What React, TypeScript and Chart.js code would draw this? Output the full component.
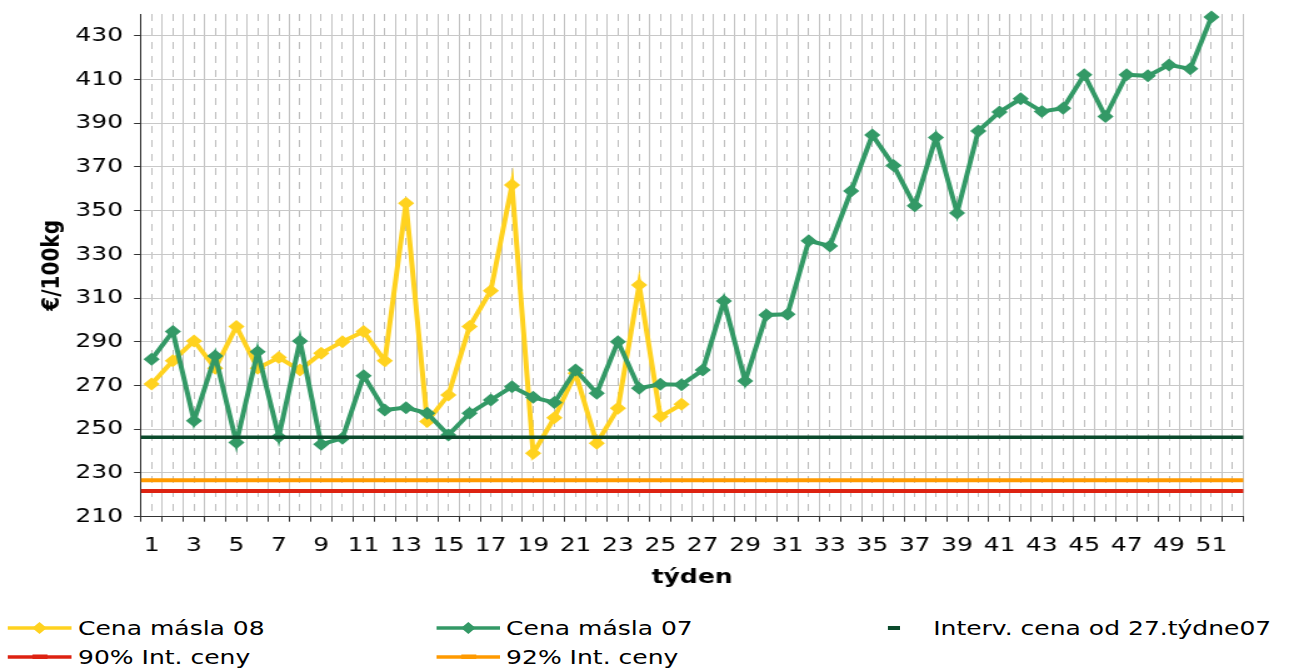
import React, { useEffect, useRef } from 'react';
import { Chart, registerables } from 'chart.js';

Chart.register(...registerables);

// ---------- data ----------
const weeks = [
  '1', '2', '3', '4', '5', '6', '7', '8', '9', '10', '11', '12', '13',
  '14', '15', '16', '17', '18', '19', '20', '21', '22', '23', '24', '25', '26',
  '27', '28', '29', '30', '31', '32', '33', '34', '35', '36', '37', '38', '39',
  '40', '41', '42', '43', '44', '45', '46', '47', '48', '49', '50', '51', '52',
];
const labeledWeeks = [
  '1', '3', '5', '7', '9', '11', '13', '15', '17', '19', '21', '23', '25',
  '27', '29', '31', '33', '35', '37', '39', '41', '43', '45', '47', '49', '51',
];
const butter08 = [
  270.7, 281.3, 290.4, 277.9, 297.0, 277.9, 282.8, 277.1, 284.8, 290.1, 294.7, 281.3, 353.4,
  253.5, 265.7, 297.0, 313.4, 361.8, 239.0, 255.3, 275.6, 243.6, 259.6, 316.0, 255.8, 261.4,
];
const butter07 = [
  282.0, 294.7, 253.9, 283.5, 243.9, 285.5, 246.6, 290.4, 243.1, 245.9, 274.5, 258.8, 259.9,
  257.3, 247.4, 257.3, 263.4, 269.5, 264.6, 262.2, 277.1, 266.5, 290.1, 268.8, 270.6, 270.4,
  277.1, 308.7, 272.1, 302.3, 302.6, 336.2, 333.9, 359.0, 384.6, 370.7, 352.3, 383.5, 349.0,
  386.5, 395.2, 401.2, 395.4, 396.9, 412.2, 393.1, 412.2, 411.7, 416.7, 414.9, 438.6, null,
];
const intervPrice = 246.39;
const int90 = 221.75;
const int92 = 226.68;
const weekSpan = [0, 52];
const yTicks = [210, 230, 250, 270, 290, 310, 330, 350, 370, 390, 410, 430];
const yMin = 210;
const yMax = 440;

const seriesNames = [
  'Cena másla 08',
  'Cena másla 07',
  'Interv. cena od 27.týdne07',
  '90% Int. ceny',
  '92% Int. ceny',
];

// ---------- style ----------
const W = 1035; // logical width, stretched horizontally to 1294
const SX = 1294 / W;
const FONT = "'DejaVu Sans', Verdana, sans-serif";
const YEL = '#FFD21F';
const GRN = '#339966';
const DGRN = '#0B4A2C';
const RED = '#DD2211';
const ORG = '#FF9A00';

function App() {
  const ref = useRef<HTMLCanvasElement | null>(null);

  useEffect(() => {
    const canvas = ref.current;
    if (!canvas) return;
    const flat = (v: number) => weekSpan.map((x) => ({ x, y: v }));
    const markerLine = {
      borderWidth: 4,
      pointStyle: 'rectRot' as const,
      pointRadius: 6.5,
      pointHoverRadius: 6.5,
      pointBorderWidth: 0,
      tension: 0,
      clip: false as const,
      xAxisID: 'x',
      yAxisID: 'y',
    };
    const flatLine = {
      borderWidth: 4,
      pointRadius: 0,
      xAxisID: 'xl',
      yAxisID: 'y',
      clip: false as const,
    };
    const chart = new Chart(canvas, {
      type: 'line',
      data: {
        labels: weeks,
        datasets: [
          { ...markerLine, label: seriesNames[0], data: butter08, borderColor: YEL, backgroundColor: YEL, pointBackgroundColor: YEL, order: 5 },
          { ...markerLine, label: seriesNames[1], data: butter07, borderColor: GRN, backgroundColor: GRN, pointBackgroundColor: GRN, order: 4 },
          { ...flatLine, label: seriesNames[2], data: flat(intervPrice), borderColor: DGRN, backgroundColor: DGRN, borderWidth: 3.5, order: 3 },
          { ...flatLine, label: seriesNames[3], data: flat(int90), borderColor: RED, backgroundColor: RED, order: 2 },
          { ...flatLine, label: seriesNames[4], data: flat(int92), borderColor: ORG, backgroundColor: ORG, order: 1 },
        ] as any,
      },
      options: {
        animation: false,
        responsive: false,
        devicePixelRatio: 1,
        layout: { padding: { top: 14, right: 40.6, left: 0, bottom: 0 } },
        plugins: { legend: { display: false }, tooltip: { enabled: false } },
        events: [],
        scales: {
          x: {
            type: 'category',
            position: 'bottom',
            offset: true,
            grid: { offset: true, color: '#c2c2c2', lineWidth: 1, tickLength: 5, tickColor: '#333', drawTicks: true },
            border: { display: true, color: '#333', width: 1 },
            ticks: {
              autoSkip: false,
              maxRotation: 0,
              minRotation: 0,
              padding: 12,
              color: '#000',
              font: { family: FONT, size: 20 },
              callback: (_v: any, i: number) => (labeledWeeks.includes(weeks[i]) ? weeks[i] : ''),
            },
            title: {
              display: true,
              text: 'týden',
              color: '#000',
              font: { family: FONT, size: 20, weight: 'bold' },
              padding: { top: 0, bottom: 10 },
            },
            afterFit: (s: any) => { s.height = 83.3; s.paddingLeft = 0; s.paddingRight = 0; },
          },
          xc: {
            type: 'category',
            position: 'bottom',
            offset: true,
            grid: { offset: false, color: '#bdbdbd', lineWidth: 1, drawTicks: false },
            border: { display: false, dash: [7, 7] },
            ticks: { display: false },
            afterFit: (s: any) => { s.height = 0; s.paddingLeft = 0; s.paddingRight = 0; },
          },
          xl: { type: 'linear', min: weekSpan[0], max: weekSpan[1], display: false },
          y: {
            type: 'linear',
            min: yMin,
            max: yMax,
            afterBuildTicks: (s: any) => { s.ticks = yTicks.map((v) => ({ value: v })); },
            grid: { color: '#c8c8c8', lineWidth: 1, tickLength: 5.6, tickColor: '#333' },
            border: { display: true, color: '#333', width: 1 },
            ticks: { padding: 8.8, color: '#000', font: { family: FONT, size: 20 } },
            title: {
              display: true,
              text: '€/100kg',
              color: '#000',
              font: { family: FONT, size: 20, weight: 'bold' },
              padding: { top: 30, bottom: 0 },
            },
            afterFit: (s: any) => { s.width = 112.8; s.paddingTop = 0; s.paddingBottom = 0; },
          },
        } as any,
      },
    });
    return () => chart.destroy();
  }, []);

  const legendText: React.CSSProperties = {
    fontFamily: FONT,
    fontSize: 20,
    color: '#000',
    whiteSpace: 'nowrap',
    lineHeight: '24px',
  };

  const lineSample = (color: string, kind: 'diamond' | 'dash') => (
    <svg width={51.2} height={24} style={{ display: 'block' }}>
      <line x1={0} y1={12} x2={51.2} y2={12} stroke={color} strokeWidth={3.5} />
      {kind === 'diamond' ? (
        <polygon points="25.6,6 31.4,12 25.6,18 19.8,12" fill={color} />
      ) : (
        <rect x={20} y={9.5} width={12} height={4.5} fill={color} />
      )}
    </svg>
  );

  const items = [
    { x: 6.4, y: 628, sample: lineSample(YEL, 'diamond'), text: seriesNames[0] },
    { x: 348.8, y: 628, sample: lineSample(GRN, 'diamond'), text: seriesNames[1] },
    { x: 6.4, y: 657, sample: lineSample(RED, 'dash'), text: seriesNames[3] },
    { x: 348.8, y: 657, sample: lineSample(ORG, 'dash'), text: seriesNames[4] },
  ];

  return (
    <div
      style={{
        position: 'absolute',
        left: 0,
        top: 0,
        width: W,
        height: 669,
        transform: `scaleX(${SX})`,
        transformOrigin: '0 0',
        background: '#fff',
        overflow: 'hidden',
      }}
    >
      <canvas ref={ref} width={W} height={600} style={{ display: 'block', width: W, height: 600 }} />
      {items.map((it, i) => (
        <div key={i} style={{ position: 'absolute', left: it.x, top: it.y - 12, height: 24, display: 'flex', alignItems: 'center' }}>
          {it.sample}
          <span style={{ ...legendText, marginLeft: 4.8 }}>{it.text}</span>
        </div>
      ))}
      <div style={{ position: 'absolute', left: 710, top: 628 - 12, height: 24, display: 'flex', alignItems: 'center' }}>
        <svg width={10} height={24} style={{ display: 'block' }}>
          <rect x={0} y={10} width={10} height={4} fill={DGRN} />
        </svg>
        <span style={{ ...legendText, marginLeft: 26.4 }}>{seriesNames[2]}</span>
      </div>
    </div>
  );
}

export default App;
